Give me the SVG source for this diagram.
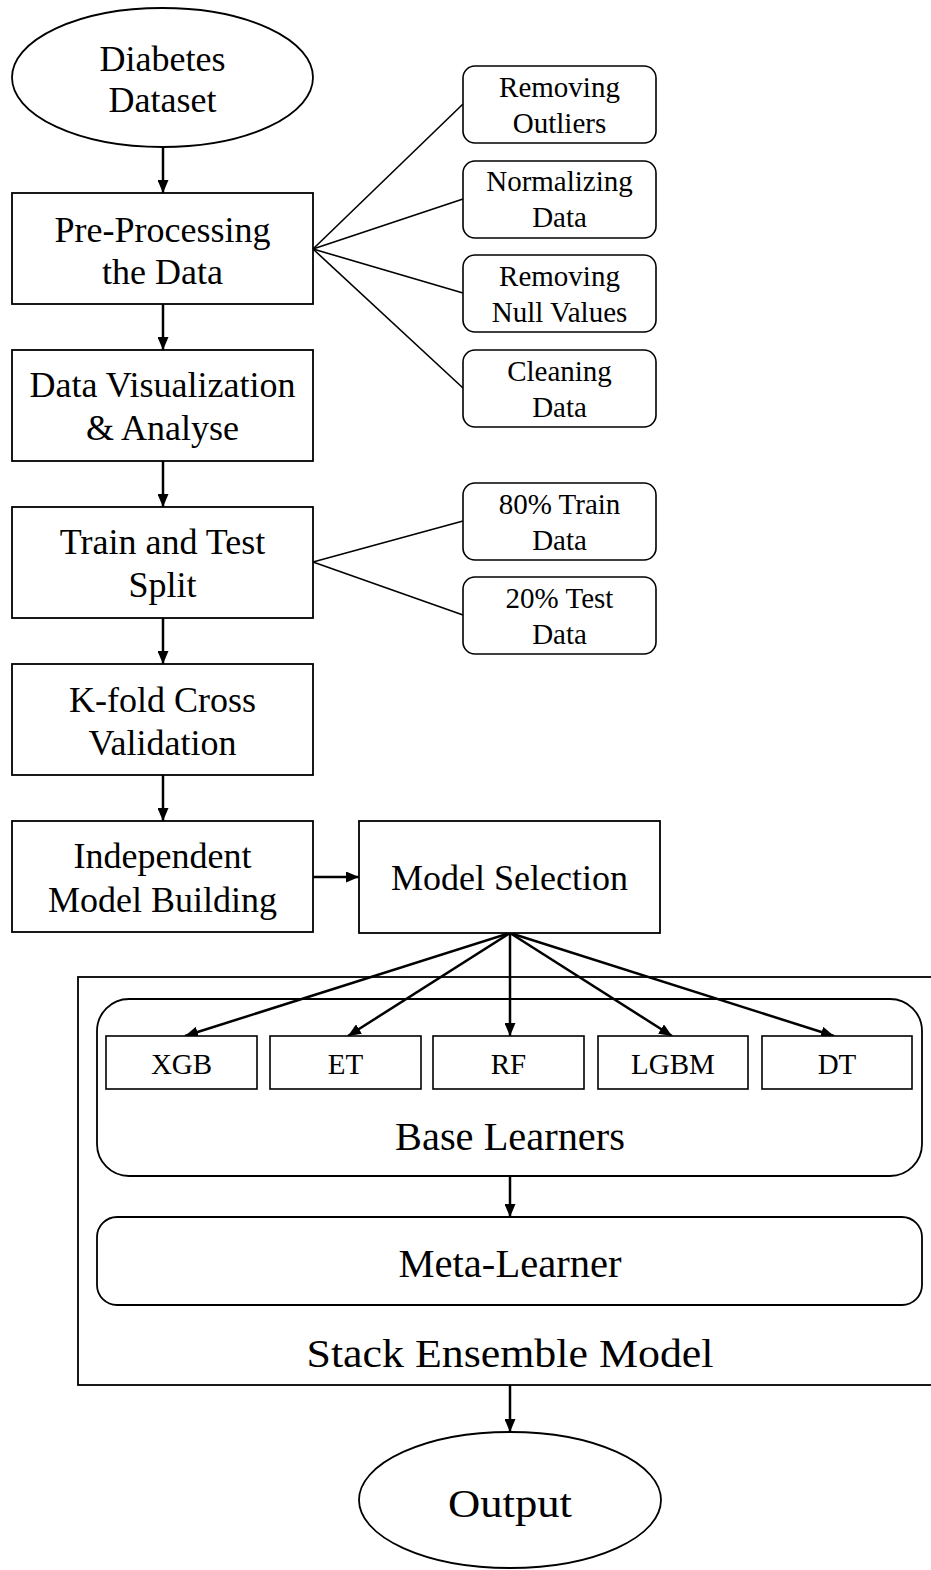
<svg xmlns="http://www.w3.org/2000/svg" width="931" height="1570" viewBox="0 0 931 1570" font-family="'Liberation Serif', 'Times New Roman', serif">
  <defs>
    <marker id="arrow" markerUnits="userSpaceOnUse" markerWidth="13" markerHeight="11" refX="13" refY="5.5" orient="auto">
      <path d="M0,0 L13,5.5 L0,11 z" fill="#000"/>
    </marker>
    <style>
      .box { fill: #fff; stroke: #000; stroke-width: 1.8; }
      .thin { fill: #fff; stroke: #000; stroke-width: 1.6; }
      .lbl { font-family: "Liberation Serif", "Times New Roman", serif; fill: #000; text-anchor: middle; }
      .main { font-size: 36px; }
      .side { font-size: 29px; }
      .big { font-size: 41px; }
      .arr { stroke: #000; stroke-width: 2.5; fill: none; marker-end: url(#arrow); }
      .fan { stroke: #000; stroke-width: 1.6; fill: none; }
    </style>
  </defs>
  <rect width="931" height="1570" fill="#fff"/>

  <!-- container frames -->
  <g id="stack-ensemble">
    <rect x="78" y="977" width="870" height="408" class="box"/>
    <text x="510" y="1367" class="lbl big" textLength="407" lengthAdjust="spacingAndGlyphs">Stack Ensemble Model</text>
  </g>
  <g id="base-learners">
    <rect x="97" y="999" width="825" height="177" rx="32" class="box"/>
    <text x="510" y="1150" class="lbl big" textLength="230" lengthAdjust="spacingAndGlyphs">Base Learners</text>
  </g>

  <!-- connectors -->
  <g id="connectors">
    <line x1="163" y1="147" x2="163" y2="193" class="arr"/>
    <line x1="163" y1="304" x2="163" y2="350" class="arr"/>
    <line x1="163" y1="461" x2="163" y2="507" class="arr"/>
    <line x1="163" y1="618" x2="163" y2="664" class="arr"/>
    <line x1="163" y1="775" x2="163" y2="821" class="arr"/>
    <line x1="313" y1="877" x2="359" y2="877" class="arr"/>

    <line x1="313" y1="249" x2="463" y2="104" class="fan"/>
    <line x1="313" y1="249" x2="463" y2="199" class="fan"/>
    <line x1="313" y1="249" x2="463" y2="293" class="fan"/>
    <line x1="313" y1="249" x2="463" y2="388" class="fan"/>

    <line x1="313" y1="562" x2="463" y2="521" class="fan"/>
    <line x1="313" y1="562" x2="463" y2="615" class="fan"/>

    <line x1="510" y1="933" x2="185" y2="1036" class="arr"/>
    <line x1="510" y1="933" x2="348" y2="1036" class="arr"/>
    <line x1="510" y1="933" x2="510" y2="1036" class="arr"/>
    <line x1="510" y1="933" x2="672" y2="1036" class="arr"/>
    <line x1="510" y1="933" x2="834" y2="1036" class="arr"/>

    <line x1="510" y1="1176" x2="510" y2="1217" class="arr"/>
    <line x1="510" y1="1385" x2="510" y2="1432" class="arr"/>
  </g>

  <g id="diabetes-dataset">
    <ellipse cx="162.5" cy="77.5" rx="150.5" ry="69.5" class="box"/>
    <text x="162.5" y="71" class="lbl main">Diabetes</text>
    <text x="162.5" y="112" class="lbl main">Dataset</text>
  </g>

  <g id="pre-processing">
    <rect x="12" y="193" width="301" height="111" class="box"/>
    <text x="162.5" y="242" class="lbl main">Pre-Processing</text>
    <text x="162.5" y="284" class="lbl main">the Data</text>
  </g>

  <g id="data-visualization">
    <rect x="12" y="350" width="301" height="111" class="box"/>
    <text x="162.5" y="397" class="lbl main">Data Visualization</text>
    <text x="162.5" y="440" class="lbl main">&amp; Analyse</text>
  </g>

  <g id="train-test-split">
    <rect x="12" y="507" width="301" height="111" class="box"/>
    <text x="162.5" y="554" class="lbl main">Train and Test</text>
    <text x="162.5" y="597" class="lbl main">Split</text>
  </g>

  <g id="k-fold">
    <rect x="12" y="664" width="301" height="111" class="box"/>
    <text x="162.5" y="712" class="lbl main">K-fold Cross</text>
    <text x="162.5" y="755" class="lbl main">Validation</text>
  </g>

  <g id="independent-model">
    <rect x="12" y="821" width="301" height="111" class="box"/>
    <text x="162.5" y="868" class="lbl main">Independent</text>
    <text x="162.5" y="912" class="lbl main">Model Building</text>
  </g>

  <g id="model-selection">
    <rect x="359" y="821" width="301" height="112" class="box"/>
    <text x="509.5" y="890" class="lbl main">Model Selection</text>
  </g>

  <g id="removing-outliers">
    <rect x="463" y="66" width="193" height="77" rx="12" class="thin"/>
    <text x="559.5" y="97" class="lbl side">Removing</text>
    <text x="559.5" y="133" class="lbl side">Outliers</text>
  </g>
  <g id="normalizing-data">
    <rect x="463" y="161" width="193" height="77" rx="12" class="thin"/>
    <text x="559.5" y="191" class="lbl side">Normalizing</text>
    <text x="559.5" y="227" class="lbl side">Data</text>
  </g>
  <g id="removing-null">
    <rect x="463" y="255" width="193" height="77" rx="12" class="thin"/>
    <text x="559.5" y="286" class="lbl side">Removing</text>
    <text x="559.5" y="322" class="lbl side">Null Values</text>
  </g>
  <g id="cleaning-data">
    <rect x="463" y="350" width="193" height="77" rx="12" class="thin"/>
    <text x="559.5" y="381" class="lbl side">Cleaning</text>
    <text x="559.5" y="417" class="lbl side">Data</text>
  </g>

  <g id="train-data">
    <rect x="463" y="483" width="193" height="77" rx="12" class="thin"/>
    <text x="559.5" y="514" class="lbl side">80% Train</text>
    <text x="559.5" y="550" class="lbl side">Data</text>
  </g>
  <g id="test-data">
    <rect x="463" y="577" width="193" height="77" rx="12" class="thin"/>
    <text x="559.5" y="608" class="lbl side">20% Test</text>
    <text x="559.5" y="644" class="lbl side">Data</text>
  </g>

  <g id="xgb">
    <rect x="106" y="1036" width="151" height="53" class="thin"/>
    <text x="181.5" y="1074" class="lbl side">XGB</text>
  </g>
  <g id="et">
    <rect x="270" y="1036" width="151" height="53" class="thin"/>
    <text x="345.5" y="1074" class="lbl side">ET</text>
  </g>
  <g id="rf">
    <rect x="433" y="1036" width="151" height="53" class="thin"/>
    <text x="508.5" y="1074" class="lbl side">RF</text>
  </g>
  <g id="lgbm">
    <rect x="598" y="1036" width="150" height="53" class="thin"/>
    <text x="673" y="1074" class="lbl side">LGBM</text>
  </g>
  <g id="dt">
    <rect x="762" y="1036" width="150" height="53" class="thin"/>
    <text x="837" y="1074" class="lbl side">DT</text>
  </g>

  <g id="meta-learner">
    <rect x="97" y="1217" width="825" height="88" rx="20" class="box"/>
    <text x="510" y="1277" class="lbl big" textLength="223" lengthAdjust="spacingAndGlyphs">Meta-Learner</text>
  </g>

  <g id="output">
    <ellipse cx="510" cy="1500" rx="151" ry="68" class="box"/>
    <text x="510" y="1517" class="lbl big" textLength="124" lengthAdjust="spacingAndGlyphs">Output</text>
  </g>
</svg>
